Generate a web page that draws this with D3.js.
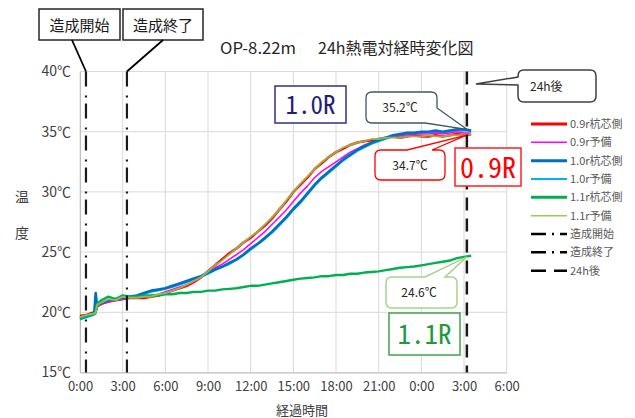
<!DOCTYPE html>
<html><head><meta charset="utf-8">
<script src="https://cdn.jsdelivr.net/npm/d3@7"></script>
<style>
html,body{margin:0;padding:0;background:#fff;}
svg{display:block;font-family:"Noto Sans CJK JP","Noto Sans",sans-serif;}
</style></head>
<body><svg id="c" width="635" height="418"></svg>
<script>
// ---- data ----
const hours = [0,0.5,1,1.1,1.2,1.5,2,2.5,3,3.5,4,4.5,5,5.5,6,6.5,7,7.5,8,8.5,9,9.5,10,10.5,11,11.5,12,12.5,13,13.5,14,14.5,15,15.5,16,16.5,17,17.5,18,18.5,19,19.5,20,20.5,21,21.5,22,22.5,23,23.5,24,24.5,25,25.5,26,26.5,27,27.5];
const red09 = [19.7,19.8,20.0,20.1,20.5,20.7,20.9,21.0,21.1,21.2,
 21.2,21.2,21.3,21.4,21.6,21.8,22.0,22.2,22.5,22.9,23.4,23.9,24.4,24.9,25.3,25.8,26.2,26.7,27.2,27.8,28.5,29.2,30.0,30.6,31.2,31.9,32.4,32.9,33.3,33.6,33.9,34.1,34.2,34.3,34.4,34.5,34.6,34.5,34.6,34.7,34.6,34.6,34.7,34.6,34.7,34.8,34.7,34.8];
const spare09 = [19.6,19.8,19.9,20.0,20.5,20.7,20.9,21.0,21.1,21.2,
 21.2,21.3,21.4,21.5,21.7,21.9,22.1,22.3,22.6,22.9,23.3,23.7,24.0,24.4,24.8,25.2,25.7,26.2,26.7,27.3,27.9,28.5,29.2,29.9,30.5,31.2,31.7,32.1,32.5,32.9,33.3,33.6,33.9,34.1,34.3,34.5,34.6,34.7,34.7,34.8,34.8,34.8,34.9,34.8,34.9,35.0,34.9,34.9];
const core10 = [19.5,19.7,19.9,21.6,20.6,20.8,21.0,21.1,21.2,21.3,
 21.4,21.6,21.8,21.9,22.0,22.2,22.4,22.6,22.8,23.0,23.3,23.55,23.8,24.1,24.4,24.8,25.3,25.7,26.2,26.7,27.3,27.9,28.6,29.2,29.9,30.6,31.2,31.7,32.2,32.7,33.1,33.5,33.8,34.1,34.3,34.5,34.7,34.8,34.9,34.9,35.0,35.0,35.1,35.0,35.1,35.2,35.2,35.1];
const spare10 = [19.4,19.6,19.8,19.9,20.5,20.7,20.9,21.0,21.1,21.2,
 21.3,21.5,21.7,21.8,21.95,22.1,22.3,22.5,22.7,22.95,23.2,23.5,23.75,24.0,24.35,24.75,25.2,25.65,26.1,26.6,27.2,27.8,28.5,29.1,29.8,30.5,31.1,31.6,32.1,32.6,33.0,33.4,33.7,34.0,34.2,34.4,34.6,34.7,34.8,34.85,34.9,34.95,35.0,34.95,35.0,35.1,35.1,35.05];
const core11 = [19.5,19.7,19.9,20.0,20.7,21.0,21.3,21.1,21.4,21.3,
 21.3,21.4,21.4,21.4,21.5,21.5,21.6,21.6,21.7,21.7,21.8,21.8,21.9,21.95,22.0,22.1,22.2,22.2,22.3,22.4,22.5,22.6,22.7,22.8,22.85,22.9,23.0,23.0,23.1,23.1,23.2,23.2,23.3,23.35,23.4,23.5,23.6,23.7,23.75,23.8,23.9,24.0,24.1,24.2,24.3,24.5,24.6,24.7];
const spare11 = [19.6,19.8,19.9,20.0,20.6,20.8,21.1,21.0,21.3,21.2,
 21.2,21.3,21.3,21.5,21.6,21.8,22.0,22.3,22.6,22.9,23.4,23.9,24.3,24.8,25.3,25.8,26.3,26.7,27.3,27.9,28.5,29.3,30.0,30.7,31.3,31.9,32.5,32.9,33.3,33.7,33.9,34.1,34.2,34.4,34.4,34.5,34.5,34.5,34.6,34.6,34.6,34.7,34.6,34.6,34.7,34.7,34.7,34.8];
const seriesNames = ["0.9r杭芯側","0.9r予備","1.0r杭芯側","1.0r予備","1.1r杭芯側","1.1r予備"];
const seriesColors = ["#ff0000","#ff00ff","#0070c0","#00b0f0","#00b050","#92d050"];
const seriesValues = [red09, spare09, core10, spare10, core11, spare11];
const eventNames = ["造成開始","造成終了","24h後"];
const eventHours = [0.42, 3.3, 27.2];
const xTicks = [0,3,6,9,12,15,18,21,24,27,30];
const xTickLabels = ["0:00","3:00","6:00","9:00","12:00","15:00","18:00","21:00","0:00","3:00","6:00"];
const yTicks = [15,20,25,30,35,40];
const yTickLabels = ["15℃","20℃","25℃","30℃","35℃","40℃"];
const calloutValues = [35.2, 34.7, 24.6];

// ---- layout ----
const svg = d3.select("#c");
const L = 80, R = 506.7, T = 71.5, B = 372.5;
const x = d3.scaleLinear().domain([0,30]).range([L,R]);
const y = d3.scaleLinear().domain([15,40]).range([B,T]);

// grid
svg.append("g").selectAll("line").data(yTicks).join("line")
  .attr("x1",L).attr("x2",R).attr("y1",d=>y(d)).attr("y2",d=>y(d))
  .attr("stroke","#d9d9d9").attr("stroke-width",1);
svg.append("g").selectAll("line").data(xTicks).join("line")
  .attr("y1",T).attr("y2",B).attr("x1",d=>x(d)).attr("x2",d=>x(d))
  .attr("stroke","#d9d9d9").attr("stroke-width",1);

// axes
const xAxis = d3.axisBottom(x).tickValues(xTicks).tickSize(0).tickPadding(9)
  .tickFormat((d,i)=>xTickLabels[i]);
const gx = svg.append("g").attr("transform",`translate(0,${B})`).call(xAxis);
gx.select(".domain").attr("stroke","#bfbfbf");
gx.selectAll("text").attr("font-size",13).attr("fill","#404040")
  .attr("font-family","'Noto Sans CJK JP',sans-serif");
const yAxis = d3.axisLeft(y).tickValues(yTicks).tickSize(0).tickPadding(9)
  .tickFormat((d,i)=>yTickLabels[i]);
const gy = svg.append("g").attr("transform",`translate(${L},0)`).call(yAxis);
gy.select(".domain").attr("stroke","#bfbfbf");
gy.selectAll("text").attr("font-size",14).attr("fill","#404040")
  .attr("font-family","'Noto Sans CJK JP',sans-serif");

// axis titles
svg.append("text").attr("x",302).attr("y",415).attr("text-anchor","middle")
  .attr("font-size",13).attr("fill","#404040").text("経過時間");
svg.append("text").attr("x",22).attr("y",202).attr("text-anchor","middle")
  .attr("font-size",14).attr("fill","#404040").text("温");
svg.append("text").attr("x",22).attr("y",238).attr("text-anchor","middle")
  .attr("font-size",14).attr("fill","#404040").text("度");

// title
const title = svg.append("text").attr("y",54).attr("font-size",16).attr("fill","#262626");
title.append("tspan").attr("x",220).attr("textLength",76).attr("lengthAdjust","spacingAndGlyphs").text("OP-8.22m");
title.append("tspan").attr("x",318).text("24h熱電対経時変化図");

// series
const line = d3.line().x((d,i)=>x(hours[i])).y(d=>y(d));
const widths = [2.6,1.5,2.6,2,2.4,2];
const opac = [1,1,1,1,1,0.8];
const order = [3,0,1,2,4,5];
order.forEach(k=>{
  svg.append("path").datum(seriesValues[k]).attr("d",line)
    .attr("fill","none").attr("stroke",seriesColors[k])
    .attr("stroke-width",widths[k]).attr("stroke-opacity",opac[k])
    .attr("stroke-linejoin","round");
});

// event lines
const dashes = ["15,9,2,6","15,9,2,6","13,8"];
eventHours.forEach((h,i)=>{
  svg.append("line").attr("x1",x(h)).attr("x2",x(h)).attr("y1",T).attr("y2",B)
    .attr("stroke","#1a1a1a").attr("stroke-width",i==2?2.5:2.2)
    .attr("stroke-dasharray",dashes[i]);
});

// legend
const legY0 = 124, legDy = 18.33;
const legNames = seriesNames.concat(eventNames);
const legColors = seriesColors.concat(["#000","#000","#000"]);
const legW = [3,1.5,3,2,3,1.5,2.5,2.5,2.5];
const legDash = [null,null,null,null,null,null,"15,6,2,6","15,6,2,6","15,8"];
legNames.forEach((n,i)=>{
  const yy = legY0 + i*legDy;
  svg.append("line").attr("x1",531).attr("x2",567).attr("y1",yy).attr("y2",yy)
    .attr("stroke",legColors[i]).attr("stroke-width",legW[i])
    .attr("stroke-dasharray",legDash[i]);
  svg.append("text").attr("x",570).attr("y",yy+4).attr("font-size",11)
    .attr("fill","#595959").text(n);
});

// ---- annotations ----
function box(x0,y0,x1,y1,stroke,sw){
  svg.append("rect").attr("x",x0).attr("y",y0).attr("width",x1-x0).attr("height",y1-y0)
    .attr("fill","#fff").attr("stroke",stroke).attr("stroke-width",sw);
}
// 造成開始 / 造成終了
box(39,9,120,40,"#262626",1.5);
box(123,9,203,40,"#262626",1.5);
svg.append("line").attr("x1",72).attr("y1",40).attr("x2",x(eventHours[0])).attr("y2",T)
  .attr("stroke","#000").attr("stroke-width",1.8);
svg.append("line").attr("x1",163).attr("y1",40).attr("x2",x(eventHours[1])).attr("y2",T)
  .attr("stroke","#000").attr("stroke-width",1.8);
svg.append("text").attr("x",79.5).attr("y",30.5).attr("text-anchor","middle")
  .attr("font-size",15).attr("fill","#1a1a1a").text(eventNames[0]);
svg.append("text").attr("x",163).attr("y",30.5).attr("text-anchor","middle")
  .attr("font-size",15).attr("fill","#1a1a1a").text(eventNames[1]);

// 24h後 callout
const tipX = x(eventHours[2]);
svg.append("path").attr("d",
  `M524,70 H590 Q596,70 596,76 V96 Q596,102 590,102 H524 Q518,102 518,96 V85 L${tipX+9},84 L518,77 V76 Q518,70 524,70 Z`)
  .attr("fill","#fff").attr("stroke","#404040").attr("stroke-width",1.5);
svg.append("text").attr("x",530).attr("y",91).attr("font-size",12).attr("fill","#262626").text(eventNames[2]);

// 35.2 callout
const t1x = x(eventHours[2]), t1y = y(calloutValues[0]);
svg.append("path").attr("d",
  `M372,92 H431 Q437,92 437,98 V108 L${t1x},${t1y} L425,123 H372 Q366,123 366,117 V98 Q366,92 372,92 Z`)
  .attr("fill","#fff").attr("stroke","#44546a").attr("stroke-width",1.3);
svg.append("text").attr("x",400).attr("y",112).attr("text-anchor","middle")
  .attr("font-size",12).attr("fill","#262626").text(calloutValues[0].toFixed(1)+"℃");

// 34.7 callout
const t2y = y(calloutValues[1]);
svg.append("path").attr("d",
  `M381,150 H407 L${t1x-1},${t2y} L432,150 H439 Q445,150 445,156 V174 Q445,180 439,180 H381 Q375,180 375,174 V156 Q375,150 381,150 Z`)
  .attr("fill","#fff").attr("stroke","#ff0000").attr("stroke-width",1.3);
svg.append("text").attr("x",410).attr("y",170).attr("text-anchor","middle")
  .attr("font-size",12).attr("fill","#262626").text(calloutValues[1].toFixed(1)+"℃");

// 24.6 callout
const t3y = y(calloutValues[2]);
svg.append("path").attr("d",
  `M392,277 H425 L${t1x},${t3y} L445,277 H451 Q457,277 457,283 V302 Q457,308 451,308 H392 Q386,308 386,302 V283 Q386,277 392,277 Z`)
  .attr("fill","#fff").attr("stroke","#a9d18e").attr("stroke-width",1.5);
svg.append("text").attr("x",419).attr("y",297).attr("text-anchor","middle")
  .attr("font-size",12).attr("fill","#262626").text(calloutValues[2].toFixed(1)+"℃");

// big labels
const mono = "'Noto Sans Mono CJK JP','Liberation Mono','DejaVu Sans Mono',monospace";
box(275,86,346,123,"#2f2f8f",1.5);
svg.append("text").attr("x",310.5).attr("y",114).attr("text-anchor","middle")
  .attr("font-family",mono).attr("font-size",25).attr("fill","#1f1f7a").text("1.0R");
box(455,148,521,186,"#ff2020",1.5);
svg.append("text").attr("x",488).attr("y",178).attr("text-anchor","middle")
  .attr("font-family",mono).attr("font-size",28).attr("fill","#ff0000").text("0.9R");
box(389,313,460,355,"#3fa34d",1.5);
svg.append("text").attr("x",424.5).attr("y",344).attr("text-anchor","middle")
  .attr("font-family",mono).attr("font-size",27).attr("fill","#1e9a3a").text("1.1R");
</script></body></html>
